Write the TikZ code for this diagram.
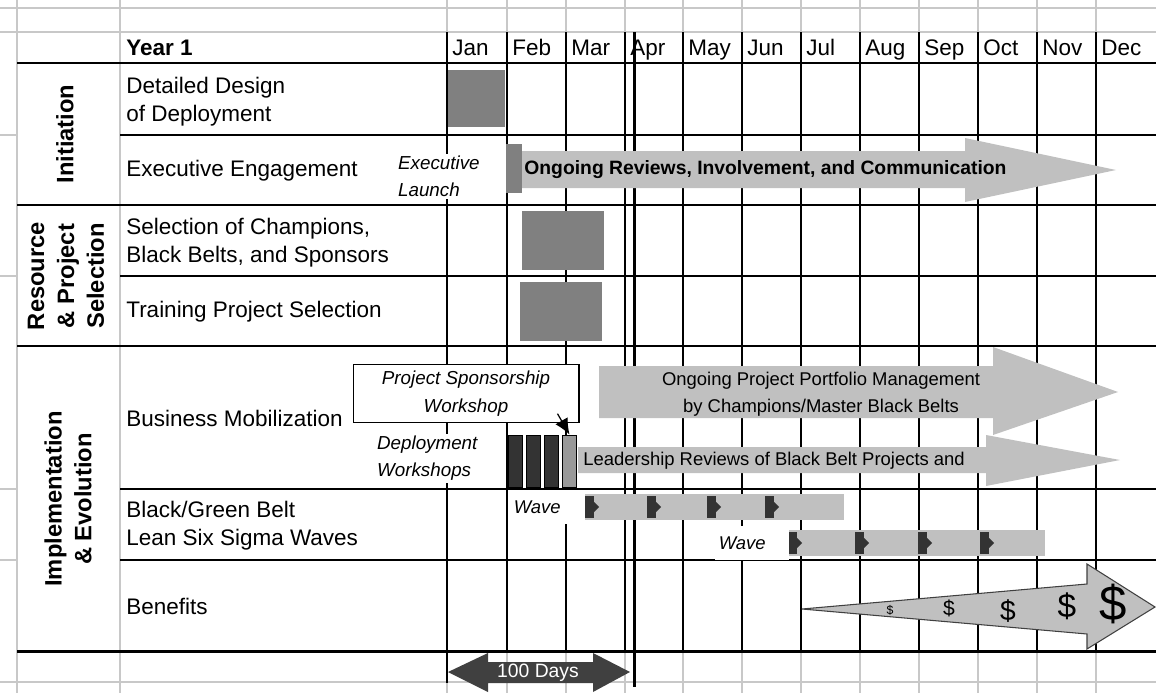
\documentclass[tikz,border=0pt]{standalone}
\usepackage{fontspec}
\setmainfont{Liberation Sans}
\usetikzlibrary{arrows.meta}
\definecolor{barGray}{HTML}{808080}
\definecolor{arrowGray}{HTML}{C0C0C0}
\definecolor{darkBar}{HTML}{333333}
\definecolor{gridGray}{HTML}{C8C8C8}
\definecolor{dayGray}{HTML}{404040}

\begin{document}
\begin{tikzpicture}[x=0.02cm, y=-0.02cm,
        rowlabel/.style={anchor=west, align=left, inner sep=0pt, font=\fontsize{12.8}{16}\selectfont},
        grouplabel/.style={rotate=90, align=center, inner sep=0pt, font=\bfseries\fontsize{13.5}{17}\selectfont},
        month/.style={anchor=base west, inner sep=0pt, font=\fontsize{12.8}{15}\selectfont},
        note/.style={anchor=west, align=left, fill=white, inner sep=1pt, font=\itshape\fontsize{10.7}{15.4}\selectfont},
        wavelabel/.style={anchor=west, fill=white, inner xsep=2pt, inner ysep=0pt, text width=38pt, minimum height=19pt, font=\itshape\fontsize{10.5}{12}\selectfont},
        dwbar/.style={draw, line width=0.5pt, inner sep=0pt, minimum width=8.2pt, minimum height=29.6pt},
        thick line/.style={line width=1.7pt},
        arrowtext/.style={inner sep=0pt, font=\fontsize{10.5}{15.4}\selectfont}]
        \useasboundingbox (0,0) rectangle (1156,693);

        \draw[gridGray, line width=0.6pt] (17,0) -- (17,693) (120,0) -- (120,693);
        \foreach \x in {447,507,566,625,683,742,801,860,919,978,1037,1096}
            \draw[gridGray, line width=0.6pt] (\x,0) -- (\x,693);
        \foreach \y in {8,32,682}
            \draw[gridGray, line width=0.6pt] (0,\y) -- (1156,\y);
        \foreach \y in {135,276,489,560}
            \draw[gridGray, line width=0.6pt] (0,\y) -- (17,\y);

        \foreach \x in {507,566,625,683,742,801,860,919,978,1037,1096}
            \draw[line width=0.6pt] (\x,32) -- (\x,651);
        \foreach \y in {135,276,489,560}
            \draw[line width=0.6pt] (120,\y) -- (1156,\y);
        \foreach \y in {63,205,346,651}
            \draw[thick line] (17,\y) -- (1156,\y);
        \draw[thick line] (447,32) -- (447,683);
        \draw[thick line] (634,32) -- (634,687);

        \node[month, font=\bfseries\fontsize{12.8}{15}\selectfont] (year) at (126,55) {Year 1};
        \foreach \x/\m in {447/Jan,507/Feb,566/Mar,625/Apr,683/May,742/Jun,801/Jul,860/Aug,919/Sep,978/Oct,1037/Nov,1096/Dec}
            \node[month] (\m) at (\x+5,55) {\m};

        \node[grouplabel] (initiation) at (65,134) {Initiation};
        \node[grouplabel] (resource) at (66,276) {Resource\\\& Project\\Selection};
        \node[grouplabel] (implementation) at (68,499) {Implementation\\\& Evolution};

        \node[rowlabel] (design) at (126,102) {Detailed Design\\of Deployment};
        \node[rowlabel] (engagement) at (126,171) {Executive Engagement};
        \node[rowlabel] (champions) at (126,243) {Selection of Champions,\\Black Belts, and Sponsors};
        \node[rowlabel] (training) at (126,312) {Training Project Selection};
        \node[rowlabel] (mobilization) at (126,418) {Business Mobilization};
        \node[rowlabel] (belts) at (126,526) {Black/Green Belt\\Lean Six Sigma Waves};
        \node[rowlabel] (benefits) at (126,606) {Benefits};

        \fill[barGray] (448,70) rectangle (505,127);

        \fill[arrowGray] (515,151) -- (965,151) -- (965,138) -- (1116,170) -- (965,202) -- (965,188) -- (515,188) -- cycle;
        \fill[barGray] (506,144) rectangle (522,193);
        \node[anchor=west, inner sep=0pt, font=\bfseries\fontsize{11}{13}\selectfont] (reviews) at (524,170) {Ongoing Reviews, Involvement, and Communication};
        \node[note] (launch) at (396,176.5) {Executive\\Launch};

        \fill[barGray] (522,211) rectangle (604,270);
        \fill[barGray] (520,282) rectangle (602,341);

        \fill[arrowGray] (599,366) -- (993,366) -- (993,347) -- (1118,392) -- (993,435) -- (993,418) -- (599,418) -- cycle;
        \node[arrowtext, align=center] (portfolio) at (821,394) {Ongoing Project Portfolio Management\\by Champions/Master Black Belts};
        \fill[arrowGray] (578,447) -- (986,447) -- (986,435) -- (1120,460) -- (986,486) -- (986,473) -- (578,473) -- cycle;
        \node[arrowtext, anchor=west] (leadership) at (583,461) {Leadership Reviews of Black Belt Projects and};

        \node[draw, fill=white, line width=0.6pt, minimum width=128.6pt, minimum height=30.7pt, align=center,
            font=\itshape\fontsize{10.7}{16}\selectfont] (sponsorship) at (466,393.5) {Project Sponsorship\\Workshop};
        \node[note] (deployment) at (375,458.5) {Deployment\\Workshops};
        \node[dwbar, fill=darkBar] (dw1) at (515.5,461) {};
        \node[dwbar, fill=darkBar] (dw2) at (533.5,461) {};
        \node[dwbar, fill=darkBar] (dw3) at (551.5,461) {};
        \node[dwbar, fill=gray!80] (dw4) at (569.5,461) {};
        \draw[-{Latex[length=9pt,width=8pt]}, line width=0.7pt] ([shift={(-22,-9)}]sponsorship.south east) -- (dw4.north);

        \fill[arrowGray] (585,494) rectangle (844,520);
        \foreach \x in {585,647,707,765} {
            \fill[darkBar] (\x,496) rectangle (\x+9,518);
            \fill[darkBar] (\x+9,502) -- (\x+14,507) -- (\x+9,512) -- cycle;
        }
        \node[wavelabel] (wave1) at (510,507) {Wave};
        \fill[arrowGray] (788,530) rectangle (1045,556);
        \foreach \x in {788,855,918,980} {
            \fill[darkBar] (\x,532) rectangle (\x+9,554);
            \fill[darkBar] (\x+9,538) -- (\x+14,543) -- (\x+9,548) -- cycle;
        }
        \node[wavelabel] (wave2) at (715,543) {Wave};

        \filldraw[fill=arrowGray, draw=dayGray, line width=0.6pt] (802,609) -- (1087,584) -- (1087,564) -- (1155,607) -- (1087,649) -- (1087,634) -- cycle;
        \node[font=\fontsize{7}{8}\selectfont] (d1) at (890,610) {\$};
        \node[font=\fontsize{12}{13}\selectfont] (d2) at (949,608) {\$};
        \node[font=\fontsize{16}{17}\selectfont] (d3) at (1008,611) {\$};
        \node[font=\fontsize{19}{20}\selectfont] (d4) at (1067,606) {\$};
        \node[font=\fontsize{28}{29}\selectfont] (d5) at (1113,604) {\$};

        \fill[dayGray] (448,672) -- (488,653) -- (488,662) -- (593,662) -- (593,653) -- (630,672) -- (593,692) -- (593,683) -- (488,683) -- (488,692) -- cycle;
        \node[text=white, inner sep=0pt, font=\fontsize{11}{13}\selectfont] (days) at (538,673) {100 Days};
    \end{tikzpicture}
\end{document}
